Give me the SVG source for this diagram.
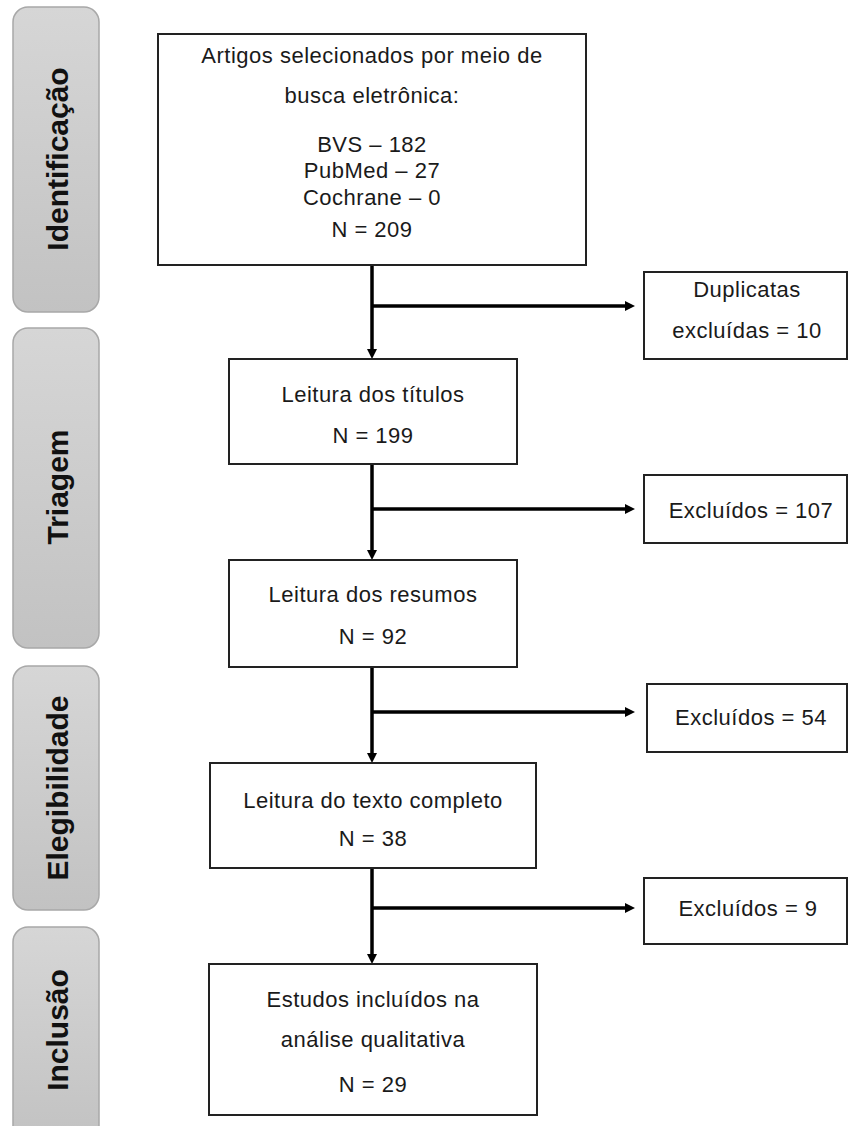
<svg xmlns="http://www.w3.org/2000/svg" width="849" height="1126" viewBox="0 0 849 1126">
<defs>
<linearGradient id="barGrad" x1="0" y1="0" x2="0" y2="1">
<stop offset="0" stop-color="#d6d6d6"/>
<stop offset="1" stop-color="#c2c2c2"/>
</linearGradient>
<marker id="ah" markerUnits="userSpaceOnUse" markerWidth="12" markerHeight="12" refX="2" refY="5" orient="auto">
<path d="M0,0 L10,5 L0,10 z" fill="#000"/>
</marker>
<style>
.bar{fill:url(#barGrad);stroke:#a8a8a8;stroke-width:1.5}
.bl{font-family:"Liberation Sans",Arial,sans-serif;font-weight:bold;font-size:30px;fill:#111;text-anchor:middle}
.box{fill:#fff;stroke:#222;stroke-width:2}
.t{font-family:"Liberation Sans",Arial,sans-serif;font-size:22px;letter-spacing:0.5px;fill:#1a1a1a;text-anchor:middle}
.c{fill:none;stroke:#000;stroke-width:3.5}
</style>
</defs>
<rect width="849" height="1126" fill="#fff"/>

<g id="phase-identificacao">
<rect class="bar" x="13" y="7" width="86" height="305" rx="15"/>
<text class="bl" transform="translate(68,159) rotate(-90)">Identificação</text>
</g>
<g id="phase-triagem">
<rect class="bar" x="13" y="328" width="86" height="320" rx="15"/>
<text class="bl" transform="translate(68,487) rotate(-90)">Triagem</text>
</g>
<g id="phase-elegibilidade">
<rect class="bar" x="13" y="666" width="86" height="244" rx="15"/>
<text class="bl" transform="translate(68,788) rotate(-90)">Elegibilidade</text>
</g>
<g id="phase-inclusao">
<rect class="bar" x="13" y="927" width="86" height="215" rx="15"/>
<text class="bl" transform="translate(68,1030) rotate(-90)">Inclusão</text>
</g>

<g id="connectors">
<path class="c" d="M372,265 V351" marker-end="url(#ah)"/>
<path class="c" d="M372,306 H627" marker-end="url(#ah)"/>
<path class="c" d="M372,464 V552" marker-end="url(#ah)"/>
<path class="c" d="M372,509 H627" marker-end="url(#ah)"/>
<path class="c" d="M372,667 V755" marker-end="url(#ah)"/>
<path class="c" d="M372,712 H627" marker-end="url(#ah)"/>
<path class="c" d="M372,868 V956" marker-end="url(#ah)"/>
<path class="c" d="M372,908 H627" marker-end="url(#ah)"/>
</g>

<g id="box-busca">
<rect class="box" x="158" y="34" width="428" height="231"/>
<text class="t" x="372" y="63">Artigos selecionados por meio de</text>
<text class="t" x="372" y="103">busca eletrônica:</text>
<text class="t" x="372" y="152">BVS – 182</text>
<text class="t" x="372" y="178">PubMed – 27</text>
<text class="t" x="372" y="205">Cochrane – 0</text>
<text class="t" x="372" y="237">N = 209</text>
</g>
<g id="box-duplicatas">
<rect class="box" x="644" y="272" width="203" height="87"/>
<text class="t" x="747" y="297">Duplicatas</text>
<text class="t" x="747" y="338">excluídas = 10</text>
</g>
<g id="box-titulos">
<rect class="box" x="229" y="359" width="288" height="105"/>
<text class="t" x="373" y="402">Leitura dos títulos</text>
<text class="t" x="373" y="443">N = 199</text>
</g>
<g id="box-excl-107">
<rect class="box" x="644" y="475" width="203" height="68"/>
<text class="t" x="751" y="518">Excluídos = 107</text>
</g>
<g id="box-resumos">
<rect class="box" x="229" y="560" width="288" height="107"/>
<text class="t" x="373" y="602">Leitura dos resumos</text>
<text class="t" x="373" y="644">N = 92</text>
</g>
<g id="box-excl-54">
<rect class="box" x="647" y="684" width="200" height="68"/>
<text class="t" x="751" y="725">Excluídos = 54</text>
</g>
<g id="box-texto">
<rect class="box" x="210" y="763" width="326" height="105"/>
<text class="t" x="373" y="808">Leitura do texto completo</text>
<text class="t" x="373" y="846">N = 38</text>
</g>
<g id="box-excl-9">
<rect class="box" x="644" y="878" width="203" height="66"/>
<text class="t" x="748" y="916">Excluídos = 9</text>
</g>
<g id="box-incluidos">
<rect class="box" x="209" y="964" width="328" height="151"/>
<text class="t" x="373" y="1007">Estudos incluídos na</text>
<text class="t" x="373" y="1047">análise qualitativa</text>
<text class="t" x="373" y="1092">N = 29</text>
</g>
</svg>
